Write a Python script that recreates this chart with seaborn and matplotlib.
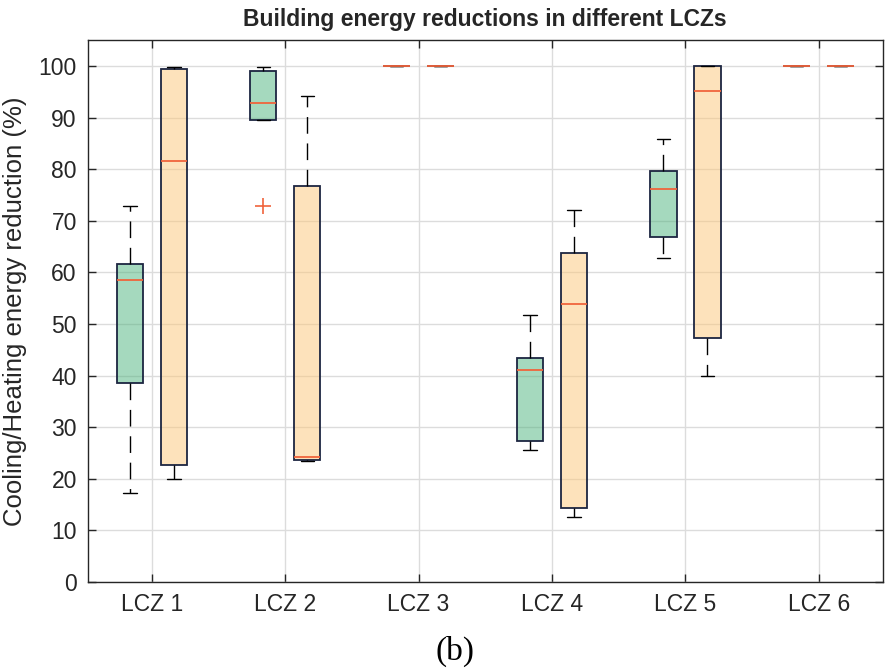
import numpy as np
import pandas as pd
import matplotlib
matplotlib.use("Agg")
import matplotlib.pyplot as plt
import seaborn as sns
from matplotlib.colors import to_rgba

# ---- data ----
categories = ["LCZ 1", "LCZ 2", "LCZ 3", "LCZ 4", "LCZ 5", "LCZ 6"]
series = ["Cooling", "Heating"]

# five-number summaries per category (min, q1, median, q3, max)
cooling_min = [17.3, 72.8, 100, 25.6, 62.8, 100]
cooling_q1 = [38.6, 89.6, 100, 27.4, 66.9, 100]
cooling_med = [58.5, 92.9, 100, 41.1, 76.2, 100]
cooling_q3 = [61.6, 99.1, 100, 43.4, 79.6, 100]
cooling_max = [72.8, 99.9, 100, 51.7, 85.9, 100]

heating_min = [20.0, 23.4, 100, 12.6, 39.9, 100]
heating_q1 = [22.7, 23.6, 100, 14.3, 47.2, 100]
heating_med = [81.7, 24.2, 100, 53.9, 95.2, 100]
heating_q3 = [99.5, 76.8, 100, 63.7, 100.0, 100]
heating_max = [99.9, 94.3, 100, 72.1, 100.0, 100]

yticks = list(range(0, 101, 10))

# ---- build long table ----
rows = []
for name, mins, q1s, meds, q3s, maxs in [
    ("Cooling", cooling_min, cooling_q1, cooling_med, cooling_q3, cooling_max),
    ("Heating", heating_min, heating_q1, heating_med, heating_q3, heating_max),
]:
    for cat, a, b, c, d, e in zip(categories, mins, q1s, meds, q3s, maxs):
        for v in (a, b, c, d, e):
            rows.append({"LCZ": cat, "Type": name, "value": v})
df = pd.DataFrame(rows)

# ---- style ----
sns.set_style("white")
plt.rcParams["font.family"] = ["Liberation Sans", "DejaVu Sans"]
text_color = "#262626"

fig = plt.figure(figsize=(8.88, 6.72), dpi=100)
ax = fig.add_axes([0.099, 0.134, 0.895, 0.806])

green = "#4db47e"
orange = "#fcc779"
edge = "#1c2541"
med_color = "#f0643c"

sns.boxplot(
    data=df, x="LCZ", y="value", hue="Type",
    order=categories, hue_order=series,
    palette=[green, orange], saturation=1, width=0.66, gap=0.4,
    linecolor=edge, linewidth=1.3, legend=False, ax=ax,
    whis=1.5,
    medianprops=dict(color=med_color, linewidth=1.3),
    whiskerprops=dict(color="black", linewidth=1.0, linestyle=(0, (12, 7))),
    capprops=dict(color="black", linewidth=1.0),
    flierprops=dict(marker="+", markeredgecolor=med_color, markerfacecolor=med_color,
                    markersize=12, markeredgewidth=1.2),
)

# semi-transparent fills (grid shows through, like the reference)
for p in ax.patches:
    fc = p.get_facecolor()
    p.set_facecolor(to_rgba(fc[:3], 0.5))
    p.set_edgecolor(edge)

ax.set_xlim(-0.48, 5.48)
ax.set_ylim(0, 105)
ax.set_yticks(yticks)
ax.set_xticks(range(len(categories)))
ax.set_xticklabels(categories)

ax.grid(True, color="#dcdcdc", linewidth=1.0)
ax.set_axisbelow(True)
for s in ax.spines.values():
    s.set_visible(True)
    s.set_color(text_color)
    s.set_linewidth(1.0)

ax.tick_params(axis="both", direction="in", length=6, width=1.0, colors=text_color,
               labelsize=16.5, top=True, right=True, bottom=True, left=True, pad=8)
for lab in ax.get_xticklabels() + ax.get_yticklabels():
    lab.set_color(text_color)

ax.set_xlabel("")
ax.set_ylabel("Cooling/Heating energy reduction (%)", fontsize=18.5, color=text_color, labelpad=8)
ax.set_title("Building energy reductions in different LCZs", fontsize=16.5, fontweight="bold",
             color=text_color, pad=10)

fig.text(0.512, 0.03, "(b)", fontsize=24, family=["Liberation Serif", "DejaVu Serif"],
         color="black", ha="center", va="center")

fig.savefig("out.png", dpi=100)
